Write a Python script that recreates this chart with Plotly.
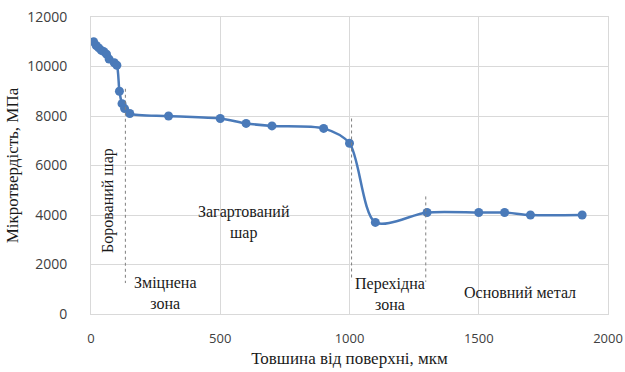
import plotly.graph_objects as go

depth = [10, 20, 30, 40, 50, 60, 70, 90, 100, 110, 120, 130, 150, 300, 500, 600, 700, 900, 1000, 1100, 1300, 1500, 1600, 1700, 1900]
hardness = [11000, 10850, 10750, 10650, 10600, 10500, 10300, 10150, 10050, 9000, 8500, 8300, 8100, 8000, 7900, 7700, 7600, 7500, 6900, 3700, 4100, 4100, 4100, 4000, 4000]

x_ticks = [0, 500, 1000, 1500, 2000]
x_labels = ["0", "500", "1000", "1500", "2000"]
y_ticks = [0, 2000, 4000, 6000, 8000, 10000, 12000]
y_labels = ["0", "2000", "4000", "6000", "8000", "10000", "12000"]

zone_lines = [(133, 9100, 1250), (1008, 7900, 1350), (1295, 4750, 1300)]
labels = [
    ("Зміцнена<br>зона", 285, 830),
    ("Загартований<br>шар", 592, 3700),
    ("Перехідна<br>зона", 1158, 800),
    ("Основний метал", 1658, 860),
]

serif = "Liberation Serif"
line_col = "#4a7ab9"

fig = go.Figure()
fig.add_trace(go.Scatter(
    x=depth, y=hardness, mode="lines+markers",
    line=dict(color=line_col, width=2.5, shape="spline", smoothing=0.8),
    marker=dict(color=line_col, size=9),
    showlegend=False,
))

for xv, y0, y1 in zone_lines:
    fig.add_shape(type="line", x0=xv, x1=xv, y0=y0, y1=y1, xref="x", yref="y",
                  line=dict(color="#7f7f7f", width=1, dash="dot"))

for txt, xv, yv in labels:
    fig.add_annotation(x=xv, y=yv, text=txt, showarrow=False, xref="x", yref="y",
                       font=dict(family=serif, size=16, color="#1a1a1a"), align="center")

fig.add_annotation(x=65, y=4600, text="Борований шар", textangle=-90, showarrow=False,
                   xref="x", yref="y", font=dict(family=serif, size=16, color="#1a1a1a"))

fig.update_layout(
    width=625, height=372,
    margin=dict(l=91, r=17, t=17, b=58),
    paper_bgcolor="white", plot_bgcolor="white",
    xaxis=dict(range=[0, 2000], tickvals=x_ticks, ticktext=x_labels, showgrid=True, gridcolor="#d9d9d9", gridwidth=1,
               zeroline=False, showline=True, linecolor="#d9d9d9", mirror=True, automargin=False,
               ticks="outside", ticklen=12, tickcolor="rgba(0,0,0,0)", ticklabeloverflow="allow",
               tickfont=dict(family="Open Sans", size=13, color="#404040"),
               title=dict(text="Товшина від поверхні, мкм", font=dict(family=serif, size=17, color="#1a1a1a"), standoff=6)),
    yaxis=dict(range=[0, 12000], tickvals=y_ticks, ticktext=y_labels, showgrid=True, gridcolor="#d9d9d9", gridwidth=1,
               zeroline=False, showline=True, linecolor="#d9d9d9", mirror=True, automargin=False,
               ticks="outside", ticklen=20, tickcolor="rgba(0,0,0,0)",
               tickfont=dict(family="Open Sans", size=14, color="#404040"),
               title=dict(text="Мікротвердість, МПа", font=dict(family=serif, size=17, color="#1a1a1a"), standoff=4)),
)

fig.write_html("out.html")
